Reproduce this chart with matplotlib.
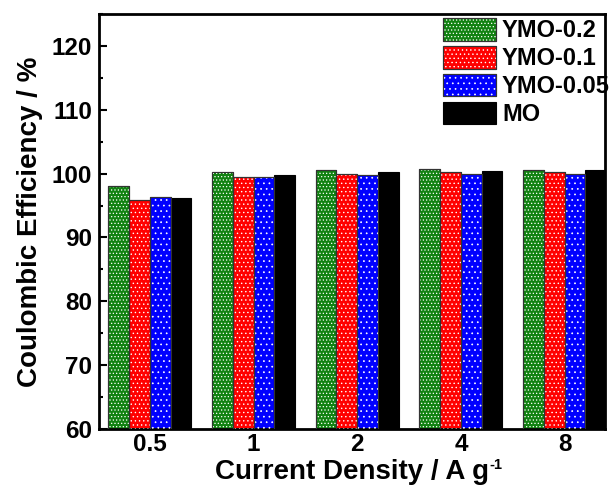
import matplotlib
matplotlib.use("Agg")
import matplotlib.pyplot as plt
import numpy as np
from matplotlib.ticker import MultipleLocator
from matplotlib.legend_handler import HandlerTuple

plt.rcParams['font.family'] = ['Liberation Sans', 'DejaVu Sans']
plt.rcParams['font.weight'] = 'bold'
plt.rcParams['hatch.linewidth'] = 0.5

categories = ['0.5', '1', '2', '4', '8']
series_names = ['YMO-0.2', 'YMO-0.1', 'YMO-0.05', 'MO']
ymo_02 = [98.0, 100.2, 100.5, 100.7, 100.5]
ymo_01 = [95.8, 99.5, 100.0, 100.2, 100.3]
ymo_005 = [96.3, 99.5, 99.8, 100.0, 100.0]
mo = [96.2, 99.8, 100.2, 100.4, 100.5]
values = [ymo_02, ymo_01, ymo_005, mo]
colors = ['#128212', '#ff0000', '#0000ff', '#000000']
hatches = ['.....', '....', '...', None]
edgecols = ['#333333', '#333333', '#333333', '#000000']

fig = plt.figure(figsize=(6.13, 4.95), dpi=100)
ax = fig.add_axes([0.1615, 0.1333, 0.8255, 0.8384])

x = np.arange(len(categories))
w = 0.2
handles = []
for i, (name, vals) in enumerate(zip(series_names, values)):
    pos = x + (i - 1.5) * w
    base = 60
    heights = np.array(vals) - base
    b1 = ax.bar(pos, heights, w, bottom=base, color=colors[i], edgecolor=edgecols[i], linewidth=0.8, zorder=2)
    if hatches[i]:
        b2 = ax.bar(pos, heights, w, bottom=base, facecolor='none', edgecolor='white',
                    hatch=hatches[i], linewidth=0, zorder=3)
        b3 = ax.bar(pos, heights, w, bottom=base, facecolor='none', edgecolor=edgecols[i],
                    linewidth=0.8, zorder=4)
        handles.append((b1.patches[0], b2.patches[0], b3.patches[0]))
    else:
        handles.append(b1.patches[0])

ax.set_xlim(-0.49, 4.39)
ax.set_ylim(60, 125)
ax.set_xticks(x)
ax.set_xticklabels(categories)
ax.set_yticks([60, 70, 80, 90, 100, 110, 120])
ax.yaxis.set_minor_locator(MultipleLocator(5))
ax.tick_params(axis='y', which='major', direction='in', length=6, width=1.5, labelsize=17.5, pad=5)
ax.tick_params(axis='y', which='minor', direction='in', length=3, width=1.5)
ax.tick_params(axis='x', which='major', length=0, labelsize=17.5, pad=3)
for s in ax.spines.values():
    s.set_linewidth(2)

ax.set_xlabel('Current Density / A g', fontsize=20, fontweight='bold', labelpad=2)
ax.set_ylabel('Coulombic Efficiency / %', fontsize=20, fontweight='bold', labelpad=6)

fig.canvas.draw()
bb = ax.xaxis.label.get_window_extent()
fig.text(bb.x1 / fig.bbox.width + 0.001, (bb.y1 + 1) / fig.bbox.height, '-1',
         fontsize=10.5, fontweight='bold', ha='left', va='top')

leg = fig.legend(handles, series_names, loc='upper left', bbox_to_anchor=(443 / 613, 1 - 18 / 495),
                 frameon=False, fontsize=17,
                 handler_map={tuple: HandlerTuple(ndivide=1, pad=0)},
                 handlelength=2.25, handleheight=1.1, handletextpad=0.25, labelspacing=0.15,
                 borderaxespad=0, borderpad=0)

fig.savefig('out.png', dpi=100)
